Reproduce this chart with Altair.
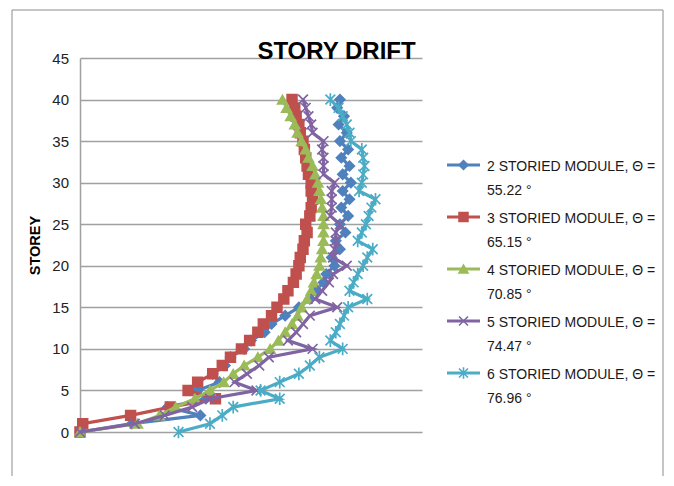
import altair as alt
import pandas as pd

# ---------------- data ----------------
storeys = list(range(41))

series_names = [
    "2 STORIED MODULE",
    "3 STORIED MODULE",
    "4 STORIED MODULE",
    "5 STORIED MODULE",
    "6 STORIED MODULE",
]
angle_labels = ["55.22 °", "65.15 °", "70.85 °", "74.47 °", "76.96 °"]

drift_2 = [0, 0.00038, 0.00088, 0.00064, 0.00092, 0.00086, 0.00102, 0.00097, 0.00106, 0.0011,
           0.0012, 0.00125, 0.00135, 0.0014, 0.0015, 0.0016, 0.00168, 0.00172, 0.00178, 0.0018,
           0.00186, 0.00184, 0.0019, 0.00187, 0.00194, 0.0019, 0.00196, 0.00191, 0.00197, 0.00192,
           0.00198, 0.00192, 0.00197, 0.00191, 0.00196, 0.0019, 0.00195, 0.00189, 0.00193, 0.00188,
           0.0019]
drift_3 = [0, 0.00002, 0.00037, 0.00066, 0.00099, 0.00079, 0.00086, 0.00097, 0.00104, 0.0011,
           0.00118, 0.00124, 0.0013, 0.00134, 0.0014, 0.00144, 0.00149, 0.00152, 0.00156, 0.00158,
           0.0016, 0.00161, 0.00163, 0.00164, 0.00166, 0.00165, 0.00168, 0.00169, 0.0017, 0.00169,
           0.00169, 0.00167, 0.00166, 0.00165, 0.00164, 0.00163, 0.00161, 0.0016, 0.00158, 0.00157,
           0.00155]
drift_4 = [0, 0.00042, 0.00058, 0.0007, 0.00084, 0.00095, 0.00105, 0.00112, 0.0012, 0.0013,
           0.00139, 0.00145, 0.0015, 0.00155, 0.00159, 0.00162, 0.00166, 0.00169, 0.00171, 0.00173,
           0.00175, 0.00176, 0.00177, 0.00178, 0.00178, 0.00178, 0.00178, 0.00177, 0.00176, 0.00175,
           0.00174, 0.00172, 0.0017, 0.00167, 0.00165, 0.00162, 0.00159, 0.00157, 0.00154, 0.00151,
           0.00148]
drift_5 = [0, 0.0004, 0.00062, 0.00082, 0.00095, 0.00129, 0.00113, 0.00122, 0.00131, 0.00138,
           0.0017, 0.00152, 0.00158, 0.00163, 0.00168, 0.00188, 0.00172, 0.00177, 0.00182, 0.00185,
           0.00195, 0.00185, 0.00186, 0.00187, 0.00187, 0.0019, 0.00183, 0.00184, 0.00184, 0.00184,
           0.00186, 0.00178, 0.00178, 0.00178, 0.00177, 0.00178, 0.0017, 0.00169, 0.00167, 0.00165,
           0.00163]
drift_6 = [0.00072, 0.00095, 0.00104, 0.00112, 0.00146, 0.00132, 0.00146, 0.0016, 0.00168, 0.00175,
           0.00192, 0.00183, 0.00187, 0.0019, 0.00193, 0.00196, 0.0021, 0.00197, 0.002, 0.00203,
           0.00207, 0.0021, 0.00214, 0.00203, 0.00206, 0.00209, 0.00211, 0.00213, 0.00216, 0.00204,
           0.00206, 0.00207, 0.00208, 0.00207, 0.00206, 0.00198, 0.00197, 0.00195, 0.00192, 0.00189,
           0.00183]
all_drifts = [drift_2, drift_3, drift_4, drift_5, drift_6]

series_colors = ["#4F81BD", "#C0504D", "#9BBB59", "#8064A2", "#4BACC6"]
series_shapes = [
    "diamond",
    "square",
    "triangle-up",
    "M-1,-1L1,1M-1,1L1,-1",
    "M-1,-1L1,1M-1,1L1,-1M0,-1.3L0,1.3",
]

title_text = "STORY DRIFT"
x_title = "DRIFT , unitless"
y_title = "STOREY"
x_ticks = [0, 0.0005, 0.001, 0.0015, 0.002, 0.0025]
y_ticks = [0, 5, 10, 15, 20, 25, 30, 35, 40, 45]

# ---------------- tables ----------------
records = []
for name, vals in zip(series_names, all_drifts):
    for s, v in zip(storeys, vals):
        records.append({"series": name, "storey": s, "drift": v})
df = pd.DataFrame(records)

legend_df = pd.DataFrame({
    "series": series_names,
    "idx": list(range(len(series_names))),
    "line1": [n + ", Θ =" for n in series_names],
    "line2": angle_labels,
})
one_row = pd.DataFrame({"k": [0]})

# ---------------- styles ----------------
FONT = "Liberation Sans, Arial, sans-serif"
TITLE_FONT = "Liberation Sans, Arial, sans-serif"
GRID = "#a0a0a0"
FRAME = "#8c8c8c"

color_scale = alt.Scale(domain=series_names, range=series_colors)
shape_scale = alt.Scale(domain=series_names, range=series_shapes)
x_scale = alt.Scale(domain=[0, 0.0025], nice=False, zero=False)
y_scale = alt.Scale(domain=[0, 45], nice=False, zero=False)

x_axis = alt.Axis(values=x_ticks, format=".4~f", title=x_title, grid=False, ticks=False,
                  domainColor=GRID, domainWidth=1.5, labelFontSize=15, labelFont=FONT,
                  labelColor="#222222", labelPadding=19, labelFlush=False,
                  titleFont=FONT, titleFontSize=14.5, titleFontWeight="bold",
                  titleColor="#000000", titlePadding=0)
y_axis = alt.Axis(values=y_ticks, title=y_title, grid=True, gridColor=GRID, gridWidth=1.5,
                  ticks=False, domainColor=GRID, domainWidth=1.5, labelFontSize=15,
                  labelFont=FONT, labelColor="#222222", labelPadding=11.5, labelFlush=False,
                  titleFont=FONT, titleFontSize=14.5, titleFontWeight="bold",
                  titleColor="#000000", titlePadding=9)

layers = []

# outer chart frame (left, top, right)
frame = alt.Chart(one_row)
layers.append(frame.mark_rule(color=FRAME, strokeWidth=1).encode(
    x=alt.value(-68), y=alt.value(-48), y2=alt.value(420)))
layers.append(frame.mark_rule(color=FRAME, strokeWidth=1).encode(
    x=alt.value(-68), x2=alt.value(583), y=alt.value(-48)))
layers.append(frame.mark_rule(color=FRAME, strokeWidth=1).encode(
    x=alt.value(583), y=alt.value(-48), y2=alt.value(420)))

# series: line then markers, in series order
for i, name in enumerate(series_names):
    sub = df[df["series"] == name]
    base = alt.Chart(sub)
    xa = x_axis if i == 0 else None
    ya = y_axis if i == 0 else None
    line = base.mark_line(strokeWidth=3.2).encode(
        x=alt.X("drift:Q", scale=x_scale, axis=xa),
        y=alt.Y("storey:Q", scale=y_scale, axis=ya),
        color=alt.Color("series:N", scale=color_scale, legend=None),
        order=alt.Order("storey:Q"),
    )
    pts = base.mark_point(filled=True, size=95, strokeWidth=1.7, opacity=1).encode(
        x=alt.X("drift:Q", scale=x_scale, axis=None),
        y=alt.Y("storey:Q", scale=y_scale, axis=None),
        color=alt.Color("series:N", scale=color_scale, legend=None),
        stroke=alt.Stroke("series:N", scale=color_scale, legend=None),
        shape=alt.Shape("series:N", scale=shape_scale, legend=None),
    )
    layers.append(line)
    layers.append(pts)

# legend (own y scale)
leg_y = alt.Y("idx:Q", scale=alt.Scale(domain=[-2.0577, 5.1346], reverse=True, nice=False, zero=False),
              axis=None)
leg = alt.Chart(legend_df)
layers.append(leg.mark_rule(strokeWidth=3).encode(
    x=alt.value(367), x2=alt.value(400), y=leg_y,
    color=alt.Color("series:N", scale=color_scale, legend=None)))
layers.append(leg.mark_point(filled=True, size=80, strokeWidth=1.6, opacity=1).encode(
    x=alt.value(383.5), y=leg_y,
    color=alt.Color("series:N", scale=color_scale, legend=None),
    stroke=alt.Stroke("series:N", scale=color_scale, legend=None),
    shape=alt.Shape("series:N", scale=shape_scale, legend=None)))
layers.append(leg.mark_text(align="left", baseline="alphabetic", dy=6, font=FONT,
                            fontSize=14, color="#1a1a1a").encode(
    x=alt.value(407), y=leg_y, text="line1:N"))
layers.append(leg.mark_text(align="left", baseline="alphabetic", dy=30, font=FONT,
                            fontSize=14, color="#1a1a1a").encode(
    x=alt.value(407), y=leg_y, text="line2:N"))

# chart title
layers.append(alt.Chart(one_row).mark_text(align="center", baseline="alphabetic", font=TITLE_FONT,
                                           fontSize=24, fontWeight="bold", color="#000000").encode(
    x=alt.value(256.5), y=alt.value(1), text=alt.value(title_text)))

chart = alt.layer(*layers).resolve_scale(y="independent").properties(
    width=342,
    height=374,
    autosize=alt.AutoSizeParams(type="none"),
    padding={"left": 72, "top": 50, "right": 244, "bottom": 44},
    background="white",
).configure_view(strokeWidth=0)

chart.save("out.html", embed_options={"renderer": "svg", "actions": False})
